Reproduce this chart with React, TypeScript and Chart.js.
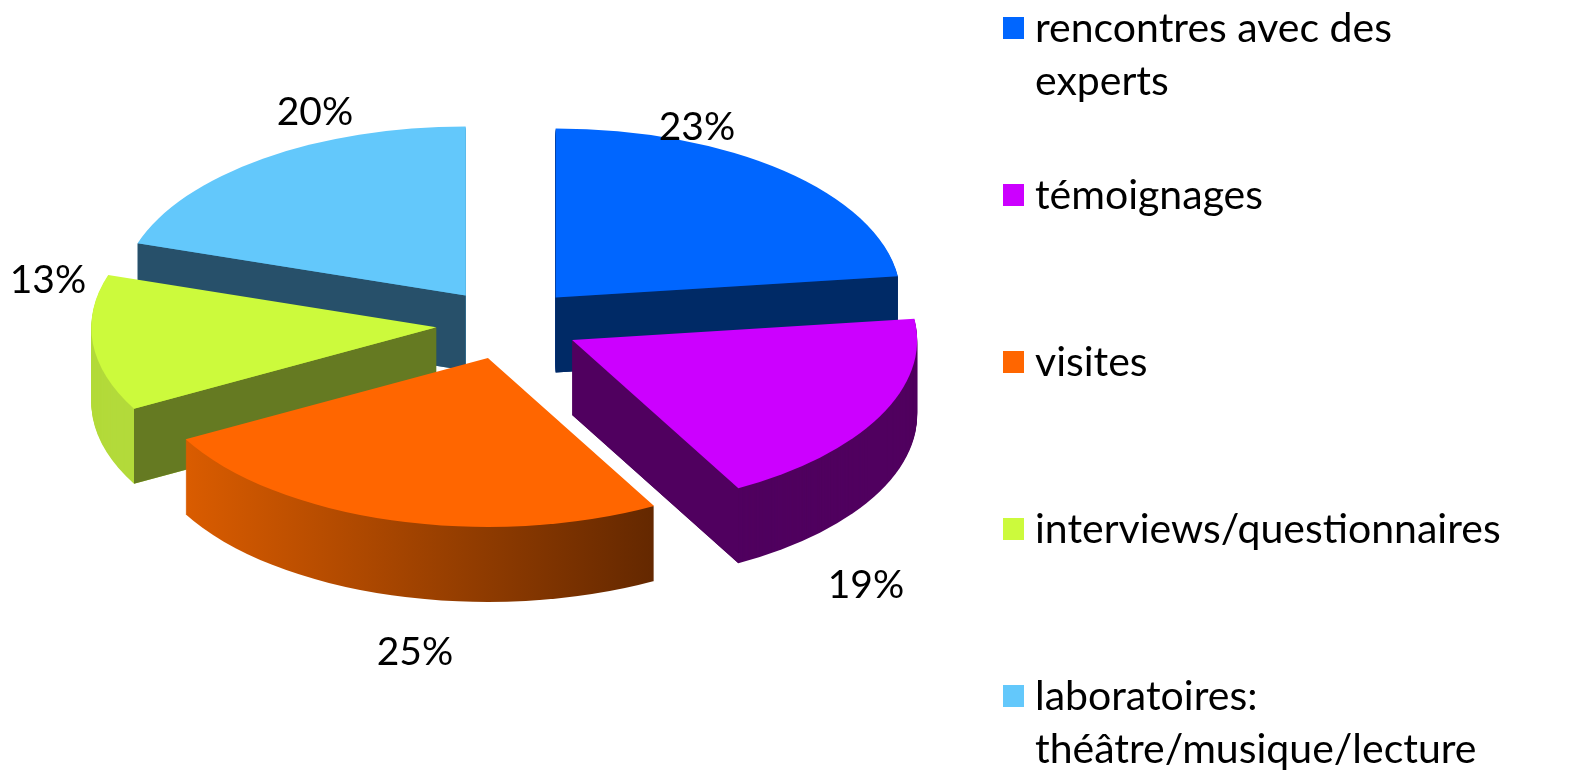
import React, { useEffect, useRef } from 'react';
import { Chart, registerables } from 'chart.js';

Chart.register(...registerables);

// ---- data ----
const categories = [
  'rencontres avec des experts',
  'témoignages',
  'visites',
  'interviews/questionnaires',
  'laboratoires: théâtre/musique/lecture',
];
const legendLines = [
  ['rencontres avec des', 'experts'],
  ['témoignages'],
  ['visites'],
  ['interviews/questionnaires'],
  ['laboratoires:', 'théâtre/musique/lecture'],
];
const values = [23, 19, 25, 13, 20];

// ---- styles ----
const topColors = ['#0066FF', '#CC00FF', '#FF6600', '#CCFA3C', '#63C8FB'];
const radialColors = ['#002A66', '#50005F', '#7A3200', '#657A22', '#27506A'];
const curvedColors: (string | [string, string])[] = [
  '#00307A',
  '#50005F',
  ['#DA5C00', '#642800'],
  '#B3DA3A',
  '#4A9FCB',
];
// label centres (layout)
const labelPos = [
  [697, 127],
  [866, 585],
  [415, 652],
  [48, 280],
  [315, 112],
];
// legend layout
const LEGEND_X = 1003;
const LEGEND_TEXT_X = 1035;
const legendBaselines = [
  [42, 95],
  [209],
  [376],
  [543],
  [710, 763],
];

const W = 1569;
const H = 771;
const CX = 508;
const CY = 324;
const RADIUS = 345;
const TILT = 0.49;
const DEPTH = 75;
const EXPLODE = 72;
const FONT = '"Lato", "Open Sans", sans-serif';
const LABEL_SIZE = 39;
const LEGEND_SIZE = 41;

const pie3d = {
  id: 'pie3d',
  beforeDatasetsDraw(chart: any) {
    const ctx: CanvasRenderingContext2D = chart.ctx;
    const meta = chart.getDatasetMeta(0);
    const cy = (chart.chartArea.top + chart.chartArea.bottom) / 2;
    const geo = meta.data.map((el: any, i: number) => {
      const p = el.getProps(['x', 'y', 'startAngle', 'endAngle', 'outerRadius'], true);
      const mid = (p.startAngle + p.endAngle) / 2;
      return {
        i,
        ...p,
        mid,
        vx: p.x + Math.cos(mid) * EXPLODE,
        vy: p.y + Math.sin(mid) * EXPLODE,
      };
    });
    const sy = (y: number) => cy + (y - cy) * TILT;
    const order = [...geo].sort((a: any, b: any) => Math.sin(a.mid) - Math.sin(b.mid));
    for (const g of order) {
      const path = (dy: number) => {
        ctx.save();
        ctx.translate(0, cy + dy);
        ctx.scale(1, TILT);
        ctx.translate(0, -cy);
        ctx.beginPath();
        ctx.moveTo(g.vx, g.vy);
        ctx.arc(g.vx, g.vy, g.outerRadius, g.startAngle, g.endAngle);
        ctx.closePath();
        ctx.restore();
      };
      // curved side
      const cc = curvedColors[g.i];
      let fill: any = cc;
      if (Array.isArray(cc)) {
        let minC = Infinity;
        let maxC = -Infinity;
        for (let t = 0; t <= 64; t++) {
          const a = g.startAngle + ((g.endAngle - g.startAngle) * t) / 64;
          minC = Math.min(minC, Math.cos(a));
          maxC = Math.max(maxC, Math.cos(a));
        }
        const grad = ctx.createLinearGradient(
          g.vx + g.outerRadius * minC,
          0,
          g.vx + g.outerRadius * maxC,
          0
        );
        grad.addColorStop(0, cc[0]);
        grad.addColorStop(1, cc[1]);
        fill = grad;
      }
      ctx.fillStyle = fill;
      for (let d = DEPTH; d >= 1; d--) {
        path(d);
        ctx.fill();
      }
      // radial faces facing the viewer
      const edges = [
        [g.startAngle, g.startAngle - Math.PI / 2],
        [g.endAngle, g.endAngle + Math.PI / 2],
      ];
      for (const [th, nrm] of edges) {
        if (Math.sin(nrm) > 0.01) {
          const x0 = g.vx;
          const y0 = sy(g.vy);
          const x1 = g.vx + g.outerRadius * Math.cos(th);
          const y1 = sy(g.vy + g.outerRadius * Math.sin(th));
          ctx.beginPath();
          ctx.moveTo(x0, y0);
          ctx.lineTo(x1, y1);
          ctx.lineTo(x1, y1 + DEPTH);
          ctx.lineTo(x0, y0 + DEPTH);
          ctx.closePath();
          ctx.fillStyle = radialColors[g.i];
          ctx.fill();
        }
      }
      // top face
      path(0);
      ctx.fillStyle = topColors[g.i];
      ctx.fill();
    }
    return false;
  },
  afterDraw(chart: any) {
    const ctx: CanvasRenderingContext2D = chart.ctx;
    const data: number[] = chart.data.datasets[0].data;
    const total = data.reduce((s, v) => s + v, 0);
    ctx.save();
    ctx.fillStyle = '#000000';
    ctx.font = `${LABEL_SIZE}px ${FONT}`;
    ctx.textAlign = 'center';
    ctx.textBaseline = 'middle';
    data.forEach((v, i) => {
      const [x, y] = labelPos[i];
      ctx.fillText(`${Math.round((v / total) * 100)}%`, x, y);
    });
    // legend
    ctx.font = `${LEGEND_SIZE}px ${FONT}`;
    ctx.textAlign = 'left';
    ctx.textBaseline = 'alphabetic';
    legendLines.forEach((lines, i) => {
      const b = legendBaselines[i];
      ctx.fillStyle = topColors[i];
      ctx.fillRect(LEGEND_X, b[0] - 25, 21, 22);
      ctx.fillStyle = '#000000';
      lines.forEach((ln, j) => ctx.fillText(ln, LEGEND_TEXT_X, b[j]));
    });
    ctx.restore();
  },
};

export default function App() {
  const ref = useRef<HTMLCanvasElement | null>(null);
  useEffect(() => {
    if (!ref.current) return;
    const chart = new Chart(ref.current, {
      type: 'pie',
      data: {
        labels: categories,
        datasets: [
          {
            data: values,
            backgroundColor: topColors,
            borderWidth: 0,
            radius: RADIUS,
          } as any,
        ],
      },
      options: {
        responsive: false,
        animation: false,
        layout: {
          padding: { left: 0, top: 0, right: W - 2 * CX, bottom: H - 2 * CY },
        },
        plugins: {
          legend: { display: false },
          tooltip: { enabled: false },
        },
      },
      plugins: [pie3d],
    });
    return () => chart.destroy();
  }, []);
  return (
    <div style={{ position: 'fixed', left: 0, top: 0, width: W, height: H, background: '#fff' }}>
      <canvas ref={ref} width={W} height={H} style={{ display: 'block' }} />
    </div>
  );
}
